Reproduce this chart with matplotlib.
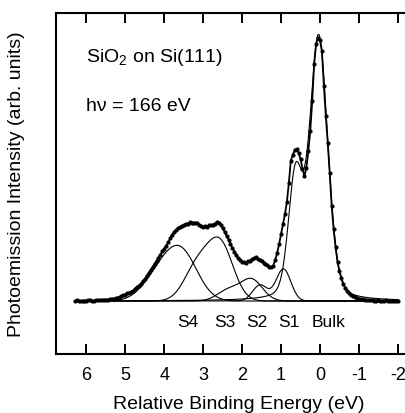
import numpy as np
import matplotlib
matplotlib.use("Agg")
import matplotlib.pyplot as plt

plt.rcParams['font.family'] = ['Liberation Sans', 'DejaVu Sans']
plt.rcParams['mathtext.fontset'] = 'custom'
plt.rcParams['mathtext.rm'] = 'Liberation Sans'
plt.rcParams['mathtext.default'] = 'regular'

# ------------------------------------------
# Measured spectrum (read from the figure)
# ------------------------------------------

energy = [6.30, 6.25, 6.20, 6.15, 6.10, 6.05, 6.00, 5.95, 5.90, 5.85, 5.80,
          5.75, 5.70, 5.65, 5.60, 5.55, 5.50, 5.45, 5.40, 5.35, 5.30, 5.25,
          5.20, 5.15, 5.10, 5.05, 5.00, 4.95, 4.90, 4.85, 4.80, 4.75, 4.70,
          4.65, 4.60, 4.55, 4.50, 4.45, 4.40, 4.35, 4.30, 4.25, 4.20, 4.15,
          4.10, 4.05, 4.00, 3.95, 3.90, 3.85, 3.80, 3.75, 3.70, 3.65, 3.60,
          3.55, 3.50, 3.45, 3.40, 3.35, 3.30, 3.25, 3.20, 3.15, 3.10, 3.05,
          3.00, 2.95, 2.90, 2.85, 2.80, 2.75, 2.70, 2.65, 2.60, 2.55, 2.50,
          2.45, 2.40, 2.35, 2.30, 2.25, 2.20, 2.15, 2.10, 2.05, 2.00, 1.95,
          1.90, 1.85, 1.80, 1.75, 1.70, 1.65, 1.60, 1.55, 1.50, 1.45, 1.40,
          1.35, 1.30, 1.25, 1.20, 1.15, 1.10, 1.05, 1.00, 0.95, 0.90, 0.85,
          0.80, 0.75, 0.70, 0.65, 0.60, 0.55, 0.50, 0.45, 0.40, 0.35, 0.30,
          0.25, 0.20, 0.15, 0.10, 0.05, 0.00, -0.05, -0.10, -0.15, -0.20,
          -0.25, -0.30, -0.35, -0.40, -0.45, -0.50, -0.55, -0.60, -0.65,
          -0.70, -0.75, -0.80, -0.85, -0.90, -0.95, -1.00, -1.05, -1.10,
          -1.15, -1.20, -1.25, -1.30, -1.35, -1.40, -1.45, -1.50, -1.55,
          -1.60, -1.65, -1.70, -1.75, -1.80, -1.85, -1.90, -1.95, -2.00]
intensity = [0.0, 0.6, 0.5, -0.2, -0.3, 0.4, 0.3, 0.9, 0.8, 0.2, 0.4,
             1.1, 1.0, 0.8, 1.2, 1.5, 1.4, 1.3, 1.8, 2.4, 2.3, 2.9,
             3.5, 4.1, 5.0, 5.6, 6.5, 7.6, 8.5, 9.3, 10.5, 12.4, 14.0,
             15.4, 17.5, 19.8, 22.0, 25.3, 28.0, 31.2, 34.0, 37.4, 40.0, 43.3,
             46.0, 49.6, 52.5, 55.4, 59.0, 62.8, 66.0, 68.9, 71.0, 72.8, 74.0,
             75.3, 76.0, 77.2, 77.5, 78.6, 78.5, 78.0, 78.5, 77.6, 76.5, 75.4,
             74.0, 74.6, 74.5, 75.6, 76.0, 76.4, 77.5, 78.9, 78.5, 76.4, 73.0,
             69.2, 65.0, 61.4, 57.5, 53.1, 49.5, 46.0, 43.0, 40.6, 39.5, 38.7,
             38.5, 39.6, 40.5, 41.6, 43.0, 43.6, 42.0, 41.4, 40.0, 38.4, 37.5,
             35.8, 34.5, 33.7, 35.5, 41.0, 48.0, 57.0, 67.0, 77.0, 87.0, 99.0,
             118.0, 140.0, 146.0, 151.0, 152.0, 148.0, 142.0, 132.0, 125.0,
             133.0, 150.0, 170.0, 200.0, 237.0, 257.0, 263.0, 261.0, 250.0,
             215.0, 185.0, 158.0, 128.0, 95.0, 72.0, 54.0, 39.0, 30.0, 23.0,
             17.0, 13.0, 10.5, 8.0, 6.0, 5.0, 4.0, 3.1, 2.5, 2.2, 1.8,
             1.2, 1.2, 0.6, 0.8, 1.0, 0.3, 0.5, 0.6, -0.1, 0.2, 0.5,
             0.7, 0.3, 0.1, 0.5, 0.4, -0.2, 0.2]

# ------------------------------------------
# Fitted components (2p3/2 + 2p1/2 doublets)
# ------------------------------------------

comp_names = ["S4", "S3", "S2", "S1", "Bulk"]
comp_pos = [3.55, 2.56, 1.76, 0.94, 0.035]
comp_amp = [46.0, 55.9, 21.5, 32.0, 263.0]
comp_sigma = [0.41, 0.33, 0.28, 0.19, 0.235]
comp_eta = [0.0, 0.0, 0.0, 0.0, 0.25]
so_ratio = [0.5, 0.6, 0.5, 0.5, 0.45]
so_sigma = [0.41, 0.33, 0.28, 0.19, 0.18]
so_split = 0.6

label_x = [3.39, 2.44, 1.63, 0.81, -0.21]


def peak(e, center, sigma, eta):
    g = np.exp(-(e - center) ** 2 / (2 * sigma ** 2))
    hwhm = 1.1774 * sigma
    lor = 1.0 / (1.0 + ((e - center) / hwhm) ** 2)
    return (1 - eta) * g + eta * lor


fig = plt.figure(figsize=(4.05, 4.14), dpi=100)
ax = fig.add_axes([0.1375, 0.1425, 0.8675, 0.8237])

e_fine = np.linspace(energy[0], energy[-1], 600)
for i in range(len(comp_names)):
    curve = comp_amp[i] * peak(e_fine, comp_pos[i], comp_sigma[i], comp_eta[i])
    curve += comp_amp[i] * so_ratio[i] * peak(e_fine, comp_pos[i] + so_split,
                                              so_sigma[i], comp_eta[i])
    ax.plot(e_fine, curve, color='black', lw=0.8)

ax.plot(energy, intensity, '-', color='black', lw=1.3)
ax.plot(energy, intensity, 'o', color='black', ms=3.0, mew=0)

for name, xl in zip(comp_names, label_x):
    ax.text(xl, -20, name, ha='center', va='center', fontsize=12.5)

ax.text(6.0, 244, "SiO$_2$ on Si(111)", ha='left', va='center', fontsize=14)
ax.text(6.0, 195, "h\u03bd = 166 eV", ha='left', va='center', fontsize=14)

ax.set_xlim(6.79, -2.236)
ax.set_ylim(-53, 288)
ax.set_xticks([6, 5, 4, 3, 2, 1, 0, -1, -2])
ax.set_xticklabels(["6", "5", "4", "3", "2", "1", "0", "-1", "-2"])
ax.set_yticks([])
ax.tick_params(axis='x', direction='in', length=7.5, width=1.4,
               top=True, bottom=True, labelsize=13, pad=8.5)
for sp in ax.spines.values():
    sp.set_linewidth(1.5)

ax.set_xlabel("Relative Binding Energy (eV)", fontsize=14, va='baseline')
ax.xaxis.set_label_coords(0.52, -0.158)
ax.set_ylabel("Photoemission Intensity (arb. units)", fontsize=14)
ax.yaxis.set_label_coords(-0.087, 0.5)

fig.savefig("out.png", dpi=100)
